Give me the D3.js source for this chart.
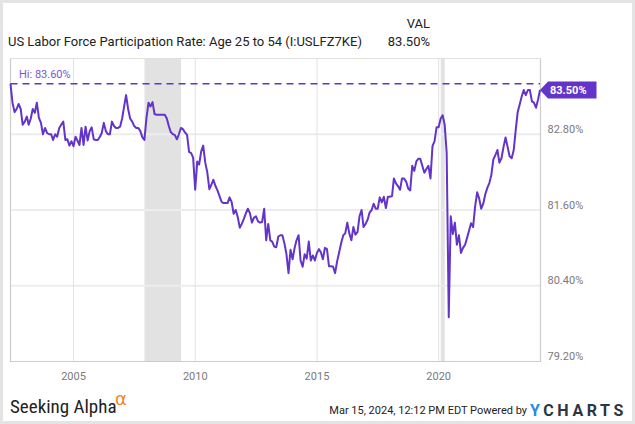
<!DOCTYPE html>
<html>
<head>
<meta charset="utf-8">
<script src="https://cdn.jsdelivr.net/npm/d3@7"></script>
<style>
  body { margin: 0; background: #fff; }
  svg { display: block; font-family: Roboto, "Open Sans", sans-serif; }
</style>
</head>
<body>
<script>
// Monthly values, first point May 2002, last point Feb 2024
var firstMonth = [2002, 4];   // year, month index (0 = Jan)
var rate = [
  83.6, 83.3, 83.15, 83.2, 83.28, 83.2, 82.95, 83.0,                              // 2002 May-Dec
  83.08, 82.95, 83.05, 83.2, 83.14, 83.3, 83.06, 82.98, 82.8, 82.9, 82.82, 82.8,  // 2003
  82.8, 82.71, 82.8, 82.76, 82.9, 82.95, 83.0, 82.71, 82.72, 82.62, 82.69, 82.61, // 2004
  82.76, 82.7, 82.63, 82.9, 82.63, 82.92, 82.7, 82.85, 82.91, 82.72, 82.71, 82.71,// 2005
  82.76, 82.82, 82.98, 82.85, 82.8, 82.8, 83.0, 82.93, 82.9, 82.9, 82.92, 83.05,  // 2006
  83.25, 83.42, 83.2, 83.05, 83.0, 82.93, 82.9, 82.9, 82.85, 82.75, 82.71, 83.06, // 2007
  83.3, 83.24, 83.31, 83.12, 83.11, 83.11, 83.11, 83.11, 83.11, 83.05, 82.93, 82.83, // 2008
  82.8, 82.79, 82.72, 82.8, 82.9, 82.88, 82.83, 82.79, 82.52, 82.5, 82.43, 81.92, // 2009
  82.37, 82.32, 82.53, 82.62, 82.35, 82.2, 81.93, 82.0, 82.08, 81.98, 81.91, 81.82, // 2010
  81.73, 81.71, 81.71, 81.71, 81.8, 81.73, 81.54, 81.6, 81.49, 81.32, 81.38, 81.46, // 2011
  81.55, 81.62, 81.55, 81.4, 81.48, 81.5, 81.42, 81.4, 81.41, 81.62, 81.12, 81.38,  // 2012
  81.12, 81.1, 81.02, 81.01, 81.18, 81.2, 81.2, 81.07, 80.9, 80.6, 80.97, 80.82,    // 2013
  81.0, 81.12, 81.2, 80.8, 80.7, 80.9, 80.83, 81.1, 80.8, 80.88, 80.8, 80.92,       // 2014
  80.98, 80.93, 80.82, 81.0, 80.98, 80.71, 80.71, 80.7, 80.6, 80.79, 80.93, 81.08,  // 2015
  81.2, 81.23, 81.4, 81.23, 81.12, 81.33, 81.21, 81.25, 81.5, 81.6, 81.33, 81.38,   // 2016
  81.45, 81.56, 81.6, 81.7, 81.62, 81.62, 81.8, 81.72, 81.81, 81.63, 81.81, 81.81,  // 2017
  81.82, 82.1, 82.02, 81.98, 81.92, 82.1, 82.1, 82.05, 81.94, 81.91, 82.3, 82.22,   // 2018
  82.37, 82.41, 82.41, 82.3, 82.19, 82.25, 82.3, 82.1, 82.61, 82.69, 82.91, 82.91,  // 2019
  83.05, 83.1, 82.95, 82.5, 79.9, 81.5, 81.22, 81.4, 81.05, 81.2, 80.92, 81.0,      // 2020
  81.05, 81.15, 81.27, 81.39, 81.33, 81.65, 81.88, 81.78, 81.62, 81.7, 81.85, 81.95,// 2021
  82.03, 82.15, 82.4, 82.47, 82.55, 82.35, 82.42, 82.6, 82.75, 82.6, 82.45, 82.42,  // 2022
  82.55, 82.85, 83.15, 83.27, 83.4, 83.5, 83.42, 83.5, 83.5, 83.32, 83.3, 83.22,    // 2023
  83.35, 83.5                                                                       // 2024 Jan-Feb
];
var yTicks = [79.2, 80.4, 81.6, 82.8];
var xTickYears = [2005, 2010, 2015, 2020];
var recessions = [["2007-12-01", "2009-06-01"], ["2020-02-01", "2020-04-01"]];
var hiValue = 83.6;
var lastValue = 83.5;
var title = "US Labor Force Participation Rate: Age 25 to 54 (I:USLFZ7KE)";

var W = 635, H = 424;
var plot = { left: 10.5, right: 540, top: 58.5, bottom: 361.5 };
var purple = "#6334c9";

// month-end dates
var data = rate.map(function (v, i) {
  return { date: new Date(firstMonth[0], firstMonth[1] + i + 1, 0), value: v };
});

var x = d3.scaleTime()
  .domain(d3.extent(data, function (d) { return d.date; }))
  .range([plot.left, plot.right]);
var y = d3.scaleLinear().domain([79.2, 84.0]).range([plot.bottom, plot.top]);

var svg = d3.select("body").append("svg")
  .attr("width", W).attr("height", H);

// outer frame
svg.append("rect").attr("x", 1.5).attr("y", 1.5).attr("width", W - 3).attr("height", H - 3)
  .attr("fill", "#fff").attr("stroke", "#e4e4e4").attr("stroke-width", 3);

// header
svg.append("text").attr("x", 430).attr("y", 28).attr("text-anchor", "end")
  .style("font-size", "13px").attr("fill", "#222").text("VAL");
svg.append("text").attr("x", 8).attr("y", 46)
  .style("font-size", "13px").attr("fill", "#222").text(title);
svg.append("text").attr("x", 430).attr("y", 46).attr("text-anchor", "end")
  .style("font-size", "13px").attr("fill", "#222").text(d3.format(".2f")(lastValue) + "%");

// recession shading
svg.selectAll(".rec").data(recessions).enter().append("rect")
  .attr("class", "rec")
  .attr("x", function (d) { return x(new Date(d[0])); })
  .attr("width", function (d) { return x(new Date(d[1])) - x(new Date(d[0])); })
  .attr("y", plot.top).attr("height", plot.bottom - plot.top)
  .attr("fill", "#e2e2e2");

// grid
svg.selectAll(".hgrid").data(yTicks.slice(1)).enter().append("line")
  .attr("x1", plot.left).attr("x2", plot.right)
  .attr("y1", function (d) { return y(d); }).attr("y2", function (d) { return y(d); })
  .attr("stroke", "#ededed").attr("stroke-width", 2);
svg.selectAll(".vgrid").data(xTickYears).enter().append("line")
  .attr("x1", function (d) { return x(new Date(d, 0, 1)); })
  .attr("x2", function (d) { return x(new Date(d, 0, 1)); })
  .attr("y1", plot.top).attr("y2", plot.bottom)
  .attr("stroke", "#e2e2e2").attr("stroke-width", 1);

// plot border
svg.append("line").attr("x1", plot.left).attr("x2", plot.right).attr("y1", plot.top).attr("y2", plot.top)
  .attr("stroke", "#e0e0e0");
svg.append("path")
  .attr("d", "M" + plot.left + "," + plot.top + "V" + plot.bottom + "H" + (plot.right + 0.5) + "V" + plot.top)
  .attr("fill", "none").attr("stroke", "#cccccc").attr("stroke-width", 1.2);

// y labels on the right
svg.selectAll(".ylab").data(yTicks).enter().append("text")
  .attr("x", 547.5).attr("y", function (d) { return y(d) - 1.5; })
  .style("font-size", "11px").attr("fill", "#7a7a7a")
  .text(function (d) { return d3.format(".2f")(d) + "%"; });

// x labels
svg.selectAll(".xlab").data(xTickYears).enter().append("text")
  .attr("x", function (d) { return x(new Date(d, 0, 1)); }).attr("y", 380)
  .attr("text-anchor", "middle")
  .style("font-size", "11px").attr("fill", "#7a7a7a")
  .text(function (d) { return d; });

// hi line
svg.append("line").attr("x1", plot.left).attr("x2", plot.right)
  .attr("y1", y(hiValue)).attr("y2", y(hiValue))
  .attr("stroke", purple).attr("stroke-width", 1.6).attr("stroke-dasharray", "7,5");
svg.append("text").attr("x", 19).attr("y", 78)
  .style("font-size", "11px").attr("fill", "#7b55d6")
  .text("Hi: " + d3.format(".2f")(hiValue) + "%");

// series
var line = d3.line()
  .x(function (d) { return x(d.date); })
  .y(function (d) { return y(d.value); });
svg.append("path").datum(data)
  .attr("d", line)
  .attr("fill", "none").attr("stroke", purple).attr("stroke-width", 2)
  .attr("stroke-linejoin", "round");

// last value tag
var ty = y(lastValue), tx = plot.right;
svg.append("path")
  .attr("d", "M" + tx + "," + ty + "L" + (tx + 8) + "," + (ty - 8.5) + "H" + (tx + 56.5) +
    "V" + (ty + 8.5) + "H" + (tx + 8) + "Z")
  .attr("fill", purple);
svg.append("text").attr("x", tx + 10).attr("y", ty + 4)
  .style("font-size", "11px").style("font-weight", "bold").attr("fill", "#fff")
  .text(d3.format(".2f")(lastValue) + "%");

// footer
svg.append("text").attr("x", 10).attr("y", 413)
  .style("font-family", "'Liberation Sans Narrow', 'Roboto Condensed', Roboto, sans-serif")
  .style("font-size", "19px").attr("fill", "#222").text("Seeking Alpha");
svg.append("text").attr("x", 115).attr("y", 405)
  .style("font-family", "'DejaVu Sans', sans-serif")
  .style("font-size", "18px").attr("fill", "#f0882a").text("\u03b1");
svg.append("text").attr("x", 527).attr("y", 414).attr("text-anchor", "end")
  .style("font-size", "11px").attr("fill", "#222").text("Mar 15, 2024, 12:12 PM EDT Powered by");
var yc = svg.append("text").attr("x", 530).attr("y", 416)
  .style("font-size", "16px").style("font-weight", "bold").style("letter-spacing", "3.6px");
yc.append("tspan").attr("fill", "#2a8ae6").text("Y");
yc.append("tspan").attr("fill", "#2b3640").text("CHARTS");
</script>
</body>
</html>
